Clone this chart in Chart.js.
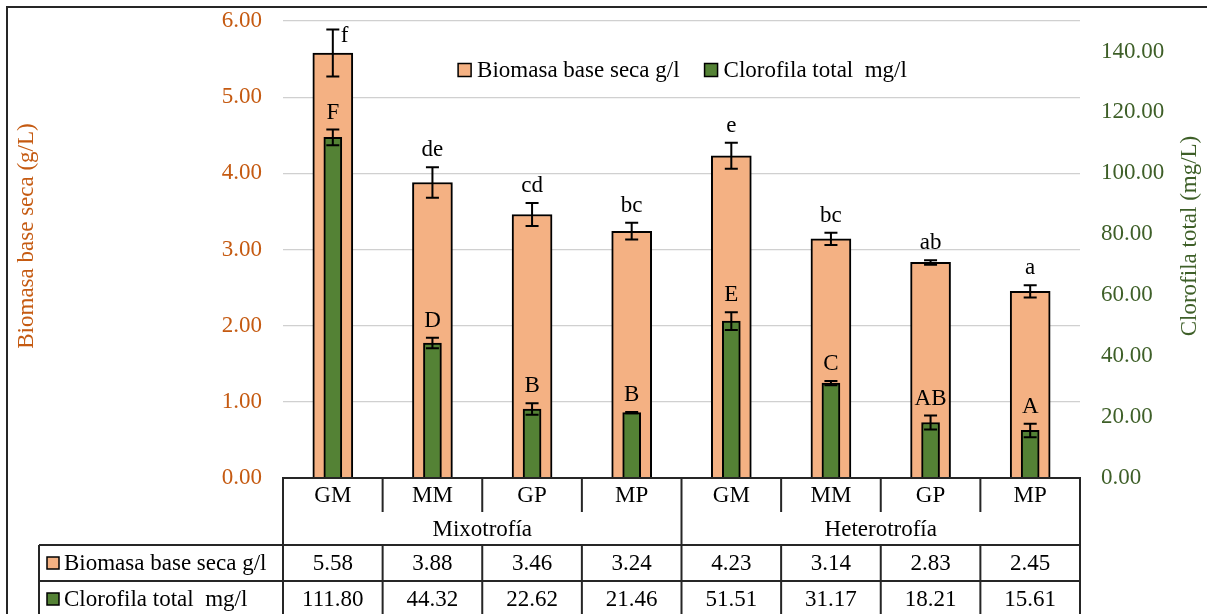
<!DOCTYPE html>
<html>
<head>
<meta charset="utf-8">
<script src="https://cdn.jsdelivr.net/npm/chart.js@4/dist/chart.umd.min.js"></script>
<style>
  html, body { margin: 0; padding: 0; background: #ffffff; }
  #wrap { width: 1207px; height: 614px; position: relative; }
</style>
</head>
<body>
<div id="wrap"><canvas id="c" width="1207" height="614"></canvas></div>
<script>
// Treatments and culture modes
const categories = ['GM', 'MM', 'GP', 'MP', 'GM', 'MM', 'GP', 'MP'];
const groups = ['Mixotrofía', 'Heterotrofía'];

// Dry-weight biomass (g/l), standard deviation and significance letters
const biomasa = [5.58, 3.88, 3.46, 3.24, 4.23, 3.14, 2.83, 2.45];
const biomasaErr = [0.31, 0.20, 0.15, 0.11, 0.17, 0.08, 0.03, 0.08];
const biomasaLetters = ['f', 'de', 'cd', 'bc', 'e', 'bc', 'ab', 'a'];

// Total chlorophyll (mg/l), standard deviation and significance letters
const clorofila = [111.80, 44.32, 22.62, 21.46, 51.51, 31.17, 18.21, 15.61];
const clorofilaErr = [2.6, 1.7, 1.9, 0.2, 2.9, 0.7, 2.3, 2.2];
const clorofilaLetters = ['F', 'D', 'B', 'B', 'E', 'C', 'AB', 'A'];

// Axis ticks
const leftTicks = [0, 1, 2, 3, 4, 5, 6];
const rightTicks = [0, 20, 40, 60, 80, 100, 120, 140];

const serieNames = ['Biomasa base seca g/l', 'Clorofila total  mg/l'];
const FONT = '"Liberation Serif", "Times New Roman", serif';
const FS = 23;
const ORANGE = '#F4B183';
const GREEN = '#548235';
const ORANGE_TXT = '#C55A11';
const GREEN_TXT = '#3E5F28';
const LINE = '#262626';

const decorations = {
  id: 'decorations',
  afterDraw(chart) {
    const ctx = chart.ctx;
    const area = chart.chartArea;
    const yL = chart.scales.y;
    const yR = chart.scales.y2;
    const metaB = chart.getDatasetMeta(1);
    const metaC = chart.getDatasetMeta(0);
    const n = categories.length;
    const cw = (area.right - area.left) / n;

    ctx.save();
    ctx.font = FS + 'px ' + FONT;
    ctx.textBaseline = 'middle';

    // error bars with caps, then significance letters
    const drawErr = (meta, vals, errs, scale, letters) => {
      for (let i = 0; i < vals.length; i++) {
        const x = meta.data[i].x;
        const top = scale.getPixelForValue(vals[i] + errs[i]);
        const bot = scale.getPixelForValue(vals[i] - errs[i]);
        ctx.strokeStyle = '#000';
        ctx.lineWidth = 2;
        ctx.beginPath();
        ctx.moveTo(x, top); ctx.lineTo(x, bot);
        ctx.moveTo(x - 6.5, top); ctx.lineTo(x + 6.5, top);
        ctx.moveTo(x - 6.5, bot); ctx.lineTo(x + 6.5, bot);
        ctx.stroke();
        ctx.fillStyle = '#000';
        let ly = top - 17;
        if (ly - 10 < area.top) {
          ctx.textAlign = 'left';
          ctx.fillText(letters[i], x + 8, top + 7);
        } else {
          ctx.textAlign = 'center';
          ctx.fillText(letters[i], x, ly);
        }
      }
    };
    drawErr(metaB, biomasa, biomasaErr, yL, biomasaLetters);
    drawErr(metaC, clorofila, clorofilaErr, yR, clorofilaLetters);

    // legend inside the plot
    const box = 13, gapBox = 6, gapItem = 25;
    const w0 = ctx.measureText(serieNames[0]).width;
    const w1 = ctx.measureText(serieNames[1]).width;
    const total = box + gapBox + w0 + gapItem + box + gapBox + w1;
    let lx = (area.left + area.right) / 2 - total / 2 + 1;
    const lyc = 70;
    const legendItem = (color, text, w) => {
      ctx.fillStyle = color;
      ctx.fillRect(lx, lyc - box / 2, box, box);
      ctx.strokeStyle = '#000';
      ctx.lineWidth = 1.5;
      ctx.strokeRect(lx, lyc - box / 2, box, box);
      ctx.fillStyle = '#000';
      ctx.textAlign = 'left';
      ctx.fillText(text, lx + box + gapBox, lyc + 1);
      lx += box + gapBox + w + gapItem;
    };
    legendItem(ORANGE, serieNames[0], w0);
    legendItem(GREEN, serieNames[1], w1);

    // axis titles
    ctx.save();
    ctx.translate(27, 236);
    ctx.rotate(-Math.PI / 2);
    ctx.textAlign = 'center';
    ctx.fillStyle = ORANGE_TXT;
    ctx.fillText('Biomasa base seca (g/L)', 0, 0);
    ctx.restore();
    ctx.save();
    ctx.translate(1190, 236);
    ctx.rotate(-Math.PI / 2);
    ctx.textAlign = 'center';
    ctx.fillStyle = GREEN_TXT;
    ctx.fillText('Clorofila total (mg/L)', 0, 0);
    ctx.restore();

    // data table below the plot
    const b = area.bottom;
    const rowCat = b + 34, rowGrp = b + 67, row1 = b + 103, H = chart.height;
    const mid = area.left + cw * 4;
    const keyLeft = 39;
    ctx.strokeStyle = LINE;
    ctx.lineWidth = 2;
    ctx.beginPath();
    ctx.moveTo(area.left - 1, b); ctx.lineTo(area.right + 1, b);
    [area.left, mid, area.right].forEach(x => { ctx.moveTo(x, b); ctx.lineTo(x, H); });
    for (let k = 1; k < n; k++) {
      if (k === 4) continue;
      const x = area.left + cw * k;
      ctx.moveTo(x, b); ctx.lineTo(x, rowCat);
      ctx.moveTo(x, rowGrp); ctx.lineTo(x, H);
    }
    ctx.moveTo(keyLeft, rowGrp); ctx.lineTo(area.right, rowGrp);
    ctx.moveTo(keyLeft, row1); ctx.lineTo(area.right, row1);
    ctx.moveTo(keyLeft, rowGrp); ctx.lineTo(keyLeft, H);
    ctx.stroke();

    ctx.fillStyle = '#000';
    ctx.textAlign = 'center';
    for (let i = 0; i < n; i++) {
      const x = area.left + cw * (i + 0.5);
      ctx.fillText(categories[i], x, b + 18);
      ctx.fillText(biomasa[i].toFixed(2), x, rowGrp + 19);
      ctx.fillText(clorofila[i].toFixed(2), x, row1 + 19);
    }
    groups.forEach((g, j) => {
      ctx.fillText(g, area.left + cw * (j * 4 + 2), rowCat + 18);
    });
    // row keys
    const rowKey = (color, text, yc) => {
      ctx.fillStyle = color;
      ctx.fillRect(47, yc - 6, 12, 12);
      ctx.strokeStyle = '#000';
      ctx.lineWidth = 1.5;
      ctx.strokeRect(47, yc - 6, 12, 12);
      ctx.fillStyle = '#000';
      ctx.textAlign = 'left';
      ctx.fillText(text, 64, yc + 1);
    };
    rowKey(ORANGE, serieNames[0], rowGrp + 18);
    rowKey(GREEN, serieNames[1], row1 + 18);

    // outer frame
    ctx.strokeStyle = LINE;
    ctx.lineWidth = 2;
    ctx.beginPath();
    ctx.moveTo(7, H); ctx.lineTo(7, 7); ctx.lineTo(chart.width, 7);
    ctx.stroke();
    ctx.restore();
  }
};

new Chart(document.getElementById('c'), {
  type: 'bar',
  data: {
    labels: categories,
    datasets: [
      {
        label: serieNames[1],
        data: clorofila,
        yAxisID: 'y2',
        backgroundColor: GREEN,
        borderColor: '#000',
        borderWidth: 2,
        barThickness: 18,
        grouped: false,
        order: 1
      },
      {
        label: serieNames[0],
        data: biomasa,
        yAxisID: 'y',
        backgroundColor: ORANGE,
        borderColor: '#000',
        borderWidth: 2,
        barThickness: 40,
        grouped: false,
        order: 2
      }
    ]
  },
  options: {
    responsive: false,
    animation: false,
    devicePixelRatio: 1,
    layout: { padding: { top: 21, bottom: 136, left: 0, right: 0 } },
    plugins: { legend: { display: false }, tooltip: { enabled: false } },
    scales: {
      x: { display: false, offset: true },
      y: {
        position: 'left',
        min: 0, max: 6,
        afterBuildTicks(axis) { axis.ticks = leftTicks.map(v => ({ value: v })); },
        afterFit(s) { s.width = 283; s.paddingTop = 0; s.paddingBottom = 0; },
        ticks: {
          callback: v => Number(v).toFixed(2),
          color: ORANGE_TXT,
          font: { family: FONT, size: FS },
          padding: 21
        },
        grid: { color: '#D0D0D0', lineWidth: 1.3, drawTicks: false },
        border: { display: false }
      },
      y2: {
        position: 'right',
        min: 0, max: 150,
        afterBuildTicks(axis) { axis.ticks = rightTicks.map(v => ({ value: v })); },
        afterFit(s) { s.width = 127; s.paddingTop = 0; s.paddingBottom = 0; },
        ticks: {
          callback: v => Number(v).toFixed(2),
          color: GREEN_TXT,
          font: { family: FONT, size: FS },
          padding: 21
        },
        grid: { display: false, drawTicks: false },
        border: { display: false }
      }
    }
  },
  plugins: [decorations]
});
</script>
</body>
</html>
